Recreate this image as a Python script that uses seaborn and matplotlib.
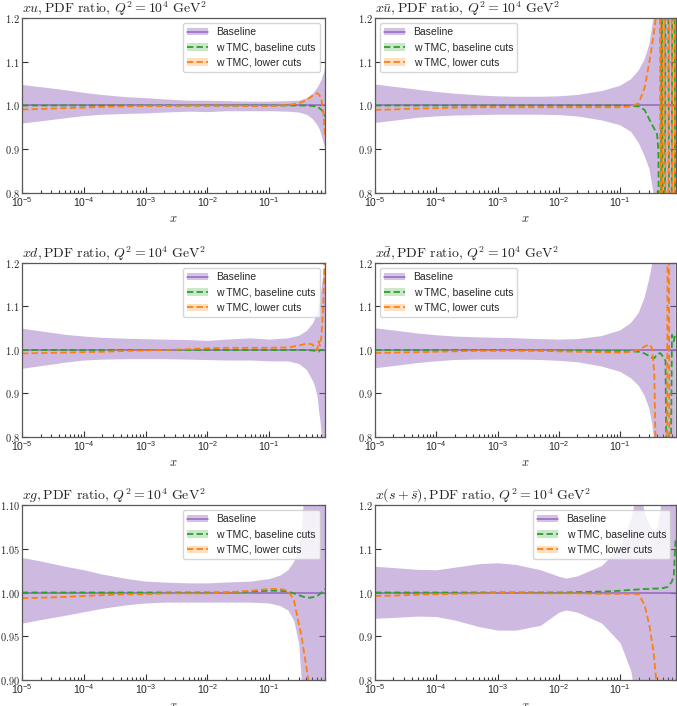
import matplotlib
matplotlib.use("Agg")
import matplotlib.pyplot as plt
import seaborn as sns
from matplotlib.patches import Patch
from matplotlib.lines import Line2D
from matplotlib.ticker import FuncFormatter, LogLocator, NullFormatter

# ---- data (ratio to baseline) ----
BASELINE = 1.0

# xu
xu_x = [1e-5, 2e-5, 5e-5, 1e-4, 2e-4, 5e-4, 1e-3, 2e-3, 5e-3, 1e-2, 2e-2, 5e-2,
        0.1, 0.2, 0.3, 0.4, 0.5, 0.55, 0.6, 0.65, 0.7, 0.75, 0.8]
xu_hi = [1.048, 1.043, 1.036, 1.030, 1.025, 1.020, 1.018, 1.015, 1.012, 1.012, 1.011, 1.010,
         1.010, 1.011, 1.012, 1.018, 1.028, 1.035, 1.043, 1.052, 1.062, 1.075, 1.090]
xu_lo = [0.960, 0.965, 0.972, 0.977, 0.980, 0.982, 0.983, 0.985, 0.987, 0.986, 0.988, 0.988,
         0.988, 0.987, 0.985, 0.980, 0.970, 0.962, 0.955, 0.945, 0.930, 0.915, 0.900]
xu_green = [1.0, 1.0, 1.0, 1.0, 1.0, 1.0, 1.0, 1.0, 1.0, 1.0, 1.0, 1.0,
            1.0, 1.0, 1.0, 1.0, 0.999, 0.998, 0.996, 0.994, 0.990, 0.985, 0.975]
xu_orange = [0.991, 0.992, 0.994, 0.995, 0.997, 0.998, 0.999, 0.999, 1.0, 1.0, 1.0, 0.999,
             0.999, 1.001, 1.005, 1.012, 1.022, 1.026, 1.028, 1.024, 1.012, 0.985, 0.930]

# x ubar
xub_x = [1e-5, 2e-5, 5e-5, 1e-4, 2e-4, 5e-4, 1e-3, 2e-3, 5e-3, 1e-2, 2e-2, 5e-2,
         0.1, 0.15, 0.2, 0.25, 0.3, 0.35, 0.4, 0.42, 0.44, 0.46, 0.48, 0.5,
         0.53, 0.56, 0.6, 0.64, 0.68, 0.72, 0.76, 0.8]
xub_hi = [1.048, 1.043, 1.036, 1.031, 1.027, 1.023, 1.021, 1.020, 1.020, 1.021, 1.024, 1.033,
          1.045, 1.060, 1.080, 1.105, 1.140, 1.200, 2.0, 2.0, 2.0, 2.0, 2.0, 2.0,
          2.0, 2.0, 2.0, 2.0, 2.0, 2.0, 2.0, 2.0]
xub_lo = [0.960, 0.965, 0.972, 0.975, 0.977, 0.978, 0.979, 0.979, 0.979, 0.978, 0.975, 0.966,
          0.955, 0.940, 0.915, 0.885, 0.855, 0.800, 0.0, 0.0, 0.0, 0.0, 0.0, 0.0,
          0.0, 0.0, 0.0, 0.0, 0.0, 0.0, 0.0, 0.0]
xub_green = [1.0, 1.0, 1.0, 1.0, 1.0, 1.0, 1.0, 1.0, 1.0, 1.0, 1.0, 1.0,
             1.0, 0.999, 0.998, 0.990, 0.968, 0.950, 0.935, 0.900, 0.500, 0.400, 1.600, 0.400,
             0.400, 1.600, 1.600, 0.400, 0.400, 1.600, 1.600, 0.400]
xub_orange = [0.990, 0.991, 0.993, 0.994, 0.995, 0.996, 0.996, 0.996, 0.996, 0.996, 0.996, 0.996,
              0.996, 0.998, 1.005, 1.040, 1.100, 1.160, 1.220, 1.600, 1.600, 0.400, 0.400, 1.600,
              1.600, 0.400, 0.400, 1.600, 1.600, 0.400, 0.400, 1.600]

# xd
xd_x = [1e-5, 2e-5, 5e-5, 1e-4, 2e-4, 5e-4, 1e-3, 2e-3, 5e-3, 1e-2, 2e-2, 5e-2,
        0.1, 0.2, 0.3, 0.4, 0.5, 0.55, 0.6, 0.63, 0.66, 0.7, 0.75, 0.8]
xd_hi = [1.050, 1.044, 1.036, 1.032, 1.029, 1.027, 1.026, 1.025, 1.024, 1.022, 1.025, 1.028,
         1.025, 1.028, 1.034, 1.045, 1.062, 1.075, 1.090, 1.105, 1.120, 1.150, 1.180, 1.200]
xd_lo = [0.958, 0.964, 0.972, 0.977, 0.979, 0.980, 0.980, 0.980, 0.979, 0.978, 0.977, 0.977,
         0.975, 0.975, 0.969, 0.955, 0.930, 0.915, 0.890, 0.860, 0.840, 0.800, 0.780, 0.780]
xd_green = [1.0, 1.0, 1.0, 1.0, 1.0, 1.0, 1.0, 1.0, 1.0, 1.0, 1.0, 1.0,
            1.0, 1.0, 1.0, 1.0, 0.999, 0.998, 0.997, 0.996, 1.0, 1.0, 1.0, 1.0]
xd_orange = [0.992, 0.993, 0.994, 0.995, 0.996, 0.998, 0.999, 1.0, 1.002, 1.004, 1.005, 1.005,
             1.005, 1.006, 1.010, 1.015, 1.013, 1.005, 1.000, 1.020, 1.010, 1.030, 1.100, 1.250]

# x dbar
xdb_x = [1e-5, 2e-5, 5e-5, 1e-4, 2e-4, 5e-4, 1e-3, 2e-3, 5e-3, 1e-2, 2e-2, 5e-2,
         0.1, 0.15, 0.2, 0.25, 0.3, 0.33, 0.36, 0.4, 0.45, 0.5, 0.55, 0.58,
         0.6, 0.62, 0.64, 0.66, 0.7, 0.75, 0.8]
xdb_hi = [1.050, 1.045, 1.038, 1.034, 1.031, 1.029, 1.028, 1.027, 1.025, 1.024, 1.025, 1.032,
          1.045, 1.062, 1.085, 1.120, 1.165, 1.195, 1.250, 2.0, 2.0, 2.0, 2.0, 2.0,
          2.0, 2.0, 2.0, 2.0, 2.0, 2.0, 2.0]
xdb_lo = [0.958, 0.963, 0.970, 0.974, 0.977, 0.978, 0.978, 0.978, 0.977, 0.975, 0.972, 0.962,
          0.950, 0.935, 0.918, 0.895, 0.865, 0.835, 0.790, 0.0, 0.0, 0.0, 0.0, 0.0,
          0.0, 0.0, 0.0, 0.0, 0.0, 0.0, 0.0]
xdb_green = [1.0, 1.0, 1.0, 1.0, 1.0, 1.0, 1.0, 1.0, 0.999, 0.999, 0.999, 0.998,
             0.998, 0.997, 0.996, 0.992, 0.986, 0.982, 0.981, 0.990, 0.993, 0.985, 0.975, 0.600,
             0.600, 0.600, 0.600, 0.600, 1.035, 1.020, 1.040]
xdb_orange = [0.993, 0.994, 0.995, 0.996, 0.997, 0.998, 0.998, 0.998, 0.998, 0.997, 0.996, 0.995,
              0.994, 0.996, 1.000, 1.008, 1.013, 1.005, 0.950, 0.600, 0.600, 0.600, 0.600, 0.600,
              1.500, 1.500, 0.500, 0.500, 0.500, 0.500, 0.500]

# xg
xg_x = [1e-5, 2e-5, 5e-5, 1e-4, 2e-4, 5e-4, 1e-3, 2e-3, 5e-3, 1e-2, 2e-2, 5e-2,
        0.1, 0.15, 0.2, 0.25, 0.3, 0.33, 0.36, 0.4, 0.45, 0.5, 0.6, 0.7, 0.8]
xg_hi = [1.040, 1.036, 1.030, 1.026, 1.021, 1.016, 1.013, 1.012, 1.011, 1.011, 1.012, 1.013,
         1.016, 1.020, 1.026, 1.036, 1.050, 1.068, 1.110, 1.2, 1.2, 1.2, 1.2, 1.2, 1.2]
xg_lo = [0.965, 0.969, 0.974, 0.978, 0.982, 0.986, 0.988, 0.989, 0.989, 0.989, 0.989, 0.989,
         0.988, 0.985, 0.980, 0.968, 0.942, 0.900, 0.850, 0.8, 0.8, 0.8, 0.8, 0.8, 0.8]
xg_green = [1.0, 1.0, 1.0, 1.0, 1.0, 1.0, 1.0, 1.0, 1.0, 1.0, 1.0, 1.001,
            1.002, 1.002, 1.001, 0.999, 0.997, 0.996, 0.995, 0.9945, 0.994, 0.9945, 0.996, 1.000, 1.004]
xg_orange = [0.9935, 0.994, 0.995, 0.996, 0.997, 0.998, 0.998, 0.999, 0.999, 0.999, 1.000, 1.002,
             1.004, 1.004, 1.002, 0.992, 0.965, 0.952, 0.935, 0.915, 0.890, 0.850, 0.750, 0.700, 0.700]

# x(s + sbar)
xs_x = [1e-5, 2e-5, 5e-5, 1e-4, 2e-4, 5e-4, 1e-3, 2e-3, 5e-3, 1e-2, 1.3e-2, 2e-2, 5e-2,
        0.1, 0.15, 0.2, 0.25, 0.3, 0.35, 0.4, 0.45, 0.5, 0.6, 0.7, 0.75, 0.8]
xs_hi = [1.060, 1.057, 1.053, 1.052, 1.058, 1.066, 1.068, 1.064, 1.052, 1.037, 1.033, 1.038, 1.062,
         1.105, 1.170, 1.250, 1.180, 1.155, 1.137, 1.150, 1.190, 1.300, 1.400, 1.500, 1.500, 1.500]
xs_lo = [0.941, 0.943, 0.946, 0.945, 0.937, 0.922, 0.914, 0.914, 0.925, 0.955, 0.960, 0.955, 0.930,
         0.885, 0.820, 0.700, 0.600, 0.500, 0.500, 0.500, 0.500, 0.500, 0.500, 0.500, 0.500, 0.500]
xs_green = [1.0, 1.0, 1.0, 1.0, 1.0, 1.0, 1.0, 1.0, 1.0, 1.0, 1.0, 1.001, 1.002,
            1.004, 1.006, 1.007, 1.008, 1.008, 1.009, 1.009, 1.010, 1.010, 1.013, 1.025, 1.040, 1.120]
xs_orange = [0.992, 0.993, 0.995, 0.996, 0.997, 0.998, 0.999, 0.999, 0.998, 0.998, 0.998, 0.998, 0.997,
             0.997, 0.997, 0.996, 0.972, 0.925, 0.865, 0.780, 0.700, 0.600, 0.500, 0.500, 0.500, 0.500]

titles = [r"$xu,\mathrm{PDF\ ratio},\,Q^2 = 10^4\ \mathrm{GeV}^2$",
          r"$x\bar{u},\mathrm{PDF\ ratio},\,Q^2 = 10^4\ \mathrm{GeV}^2$",
          r"$xd,\mathrm{PDF\ ratio},\,Q^2 = 10^4\ \mathrm{GeV}^2$",
          r"$x\bar{d},\mathrm{PDF\ ratio},\,Q^2 = 10^4\ \mathrm{GeV}^2$",
          r"$xg,\mathrm{PDF\ ratio},\,Q^2 = 10^4\ \mathrm{GeV}^2$",
          r"$x(s+\bar{s}),\mathrm{PDF\ ratio},\,Q^2 = 10^4\ \mathrm{GeV}^2$"]
labels = ["Baseline", "w TMC, baseline cuts", "w TMC, lower cuts"]

sns.set_theme(style="ticks")
plt.rcParams["font.family"] = ["Liberation Sans", "DejaVu Sans"]
plt.rcParams["mathtext.fontset"] = "cm"

purple, green, orange = "#9467bd", "#2ca02c", "#ff7f0e"
dash = (0, (3.5, 1.8))

panels = [
    (xu_x, xu_hi, xu_lo, xu_green, xu_orange, (0.8, 1.2), [0.8, 0.9, 1.0, 1.1, 1.2], 1, "upper right"),
    (xub_x, xub_hi, xub_lo, xub_green, xub_orange, (0.8, 1.2), [0.8, 0.9, 1.0, 1.1, 1.2], 1, "upper left"),
    (xd_x, xd_hi, xd_lo, xd_green, xd_orange, (0.8, 1.2), [0.8, 0.9, 1.0, 1.1, 1.2], 1, "upper right"),
    (xdb_x, xdb_hi, xdb_lo, xdb_green, xdb_orange, (0.8, 1.2), [0.8, 0.9, 1.0, 1.1, 1.2], 1, "upper left"),
    (xg_x, xg_hi, xg_lo, xg_green, xg_orange, (0.9, 1.1), [0.90, 0.95, 1.00, 1.05, 1.10], 2, "upper right"),
    (xs_x, xs_hi, xs_lo, xs_green, xs_orange, (0.8, 1.2), [0.8, 0.9, 1.0, 1.1, 1.2], 1, "upper right"),
]

fig = plt.figure(figsize=(6.77, 7.06), dpi=100)
W, H = 677.0, 706.0
col_lr = [(22, 325), (375, 675.5)]
row_tb = [(18, 193), (263, 437), (505, 680)]

for i, (xs, hi, lo, gr, orr, ylim, yt, nd, loc) in enumerate(panels):
    r, c = divmod(i, 2)
    l, rr = col_lr[c]
    t, b = row_tb[r]
    ax = fig.add_axes([l / W, 1 - b / H, (rr - l) / W, (b - t) / H])

    ax.fill_between(xs, lo, hi, color=purple, alpha=0.45, lw=0)
    ax.axhline(BASELINE, color=purple, lw=1.1)
    sns.lineplot(x=xs, y=gr, ax=ax, color=green, lw=1.3, dashes=False,
                 linestyle=dash, legend=False, sort=False)
    sns.lineplot(x=xs, y=orr, ax=ax, color=orange, lw=1.3, dashes=False,
                 linestyle=dash, legend=False, sort=False)

    ax.set_xscale("log")
    ax.set_xlim(1e-5, 0.8)
    ax.set_ylim(*ylim)
    ax.set_yticks(yt)
    ax.yaxis.set_major_formatter(FuncFormatter(lambda v, p, nd=nd: f"${v:.{nd}f}$"))
    ax.xaxis.set_major_locator(LogLocator(base=10, numticks=10))
    ax.xaxis.set_minor_locator(LogLocator(base=10, subs=range(2, 10), numticks=20))
    ax.xaxis.set_minor_formatter(NullFormatter())
    ax.tick_params(axis="both", which="both", direction="in", labelsize=7.5,
                   color="0.2", width=0.8, pad=1.5)
    ax.tick_params(axis="y", which="major", right=True, left=True, length=4)
    ax.tick_params(axis="x", which="major", length=4, top=False)
    ax.tick_params(axis="x", which="minor", length=2.5, top=False)
    for sp in ax.spines.values():
        sp.set_color("0.35")
        sp.set_linewidth(0.9)

    ax.set_title(titles[i], loc="left", fontsize=10, pad=0.5)
    ax.set_xlabel(r"$x$", fontsize=9, labelpad=3)
    ax.set_ylabel("")

    handles = [
        (Patch(facecolor=purple, alpha=0.4, lw=0), Line2D([], [], color=purple, lw=1.1)),
        (Patch(facecolor=green, alpha=0.25, lw=0),
         Line2D([], [], color=green, lw=1.3, linestyle=dash)),
        (Patch(facecolor=orange, alpha=0.25, lw=0),
         Line2D([], [], color=orange, lw=1.3, linestyle=dash)),
    ]
    ax.legend(handles, labels, loc=loc, fontsize=7.5, frameon=True, framealpha=0.8,
              edgecolor="0.8", fancybox=True)

fig.savefig("out.png", dpi=100)
